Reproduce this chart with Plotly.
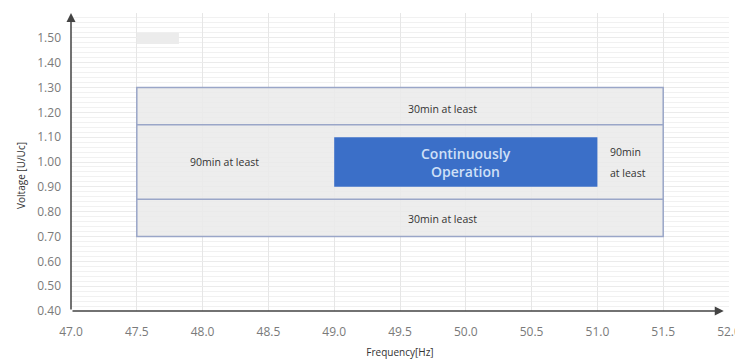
import plotly.graph_objects as go

# frequency / voltage limits of the operating regions
outer_freq = [47.5, 51.5]
outer_volt = [0.70, 1.30]
band_volt = [0.85, 1.15]
cont_freq = [49.0, 51.0]
cont_volt = [0.90, 1.10]

x_ticks = [47.0, 47.5, 48.0, 48.5, 49.0, 49.5, 50.0, 50.5, 51.0, 51.5, 52.0]
y_ticks = [0.40, 0.50, 0.60, 0.70, 0.80, 0.90, 1.00, 1.10, 1.20, 1.30, 1.40, 1.50]

labels = ["30min at least", "90min at least", "90min", "at least", "30min at least"]
label_x = [49.82, 48.17, 51.08, 51.08, 49.82]
label_y = [1.215, 1.0, 1.04, 0.956, 0.77]
cont_text = ["Continuously", "Operation"]
cont_text_y = [1.033, 0.962]

border = "#9aa6c8"
fill = "rgba(234,234,234,0.85)"

fig = go.Figure()
fig.add_trace(go.Scatter(x=[47, 52], y=[0.4, 1.6], mode="markers", marker_opacity=0, hoverinfo="skip", showlegend=False))

# outer box
fig.add_shape(type="rect", x0=outer_freq[0], x1=outer_freq[1], y0=outer_volt[0], y1=outer_volt[1],
              fillcolor=fill, line=dict(color=border, width=1.5), layer="above")
for v in band_volt:
    fig.add_shape(type="line", x0=outer_freq[0], x1=outer_freq[1], y0=v, y1=v,
                  line=dict(color=border, width=1.5), layer="above")
# continuous operation box
fig.add_shape(type="rect", x0=cont_freq[0], x1=cont_freq[1], y0=cont_volt[0], y1=cont_volt[1],
              fillcolor="#3b6fc8", line=dict(width=0), layer="above")
# faint grey smudge near top
fig.add_shape(type="rect", x0=47.5, x1=47.82, y0=1.475, y1=1.52,
              fillcolor="#ececec", line=dict(width=0), layer="above")

for i, t in enumerate(labels):
    fig.add_annotation(x=label_x[i], y=label_y[i], text=t, showarrow=False,
                       xanchor="left" if i in (2, 3) else "center",
                       font=dict(size=10.5, color="#333333", family="Open Sans"))
for t, y in zip(cont_text, cont_text_y):
    fig.add_annotation(x=sum(cont_freq) / 2, y=y, text=t, showarrow=False,
                       font=dict(size=14, color="#cfe0f7", family="Open Sans", weight=600))

# axis arrows
fig.add_annotation(x=47, y=1.6, ax=47, ay=0.4, xref="x", yref="y", axref="x", ayref="y",
                   showarrow=True, arrowhead=2, arrowsize=1.2, arrowwidth=1.5, arrowcolor="#444444", text="")
fig.add_annotation(x=51.96, y=0.4, ax=47, ay=0.4, xref="x", yref="y", axref="x", ayref="y",
                   showarrow=True, arrowhead=2, arrowsize=1.2, arrowwidth=1.5, arrowcolor="#444444", text="")

# y axis title
fig.add_annotation(x=-0.09, y=0.456, xref="paper", yref="paper", text="Voltage [U/Uc]", textangle=-90,
                   showarrow=False, font=dict(size=10, color="#333333", family="Open Sans"))

# the page adds an 8px body margin, so margins are shifted to compensate
fig.update_layout(
    width=743, height=363,
    margin=dict(l=63, r=22, t=5, b=60),
    plot_bgcolor="white", paper_bgcolor="white",
    font=dict(family="Open Sans", size=12, color="#7a7a7a"),
)
fig.update_xaxes(range=[47, 52], tickvals=x_ticks, tickformat=".1f", showline=False, zeroline=False,
                 automargin=False, showgrid=True, gridcolor="#e6e6e6", gridwidth=1, ticklabelstandoff=12,
                 title=dict(text="Frequency[Hz]", font=dict(size=10, color="#333333"), standoff=9))
fig.update_yaxes(range=[0.4, 1.6], tickvals=y_ticks, tickformat=".2f", showline=False, zeroline=False,
                 automargin=False, showgrid=True, gridcolor="#ebebeb", gridwidth=1, ticklabelstandoff=9,
                 minor=dict(dtick=0.02, showgrid=True, gridcolor="#f1f1f1"))

fig.write_html("out.html")
